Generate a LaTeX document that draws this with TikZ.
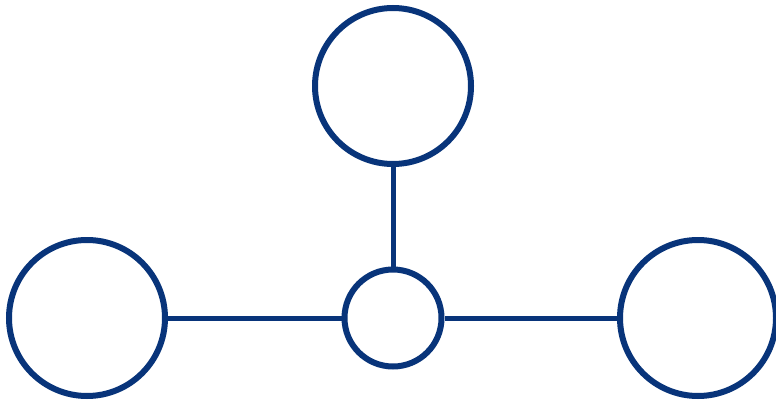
\documentclass[tikz,border=0pt]{standalone}
\definecolor{navy}{RGB}{8,52,122}
\begin{document}
\begin{tikzpicture}[x=1pt,y=-1pt,
  ring/.style={circle,draw=navy,line width=6pt,inner sep=0pt,fill=white},
  link/.style={draw=navy,line width=5pt}]
\useasboundingbox[fill=white] (0,0) rectangle (776,401);
\node[ring,minimum size=156pt] (top) at (393,86) {};
\node[ring,minimum size=156pt] (left) at (87,318) {};
\node[ring,minimum size=97pt] (mid) at (393,318) {};
\node[ring,minimum size=156pt] (right) at (698,318) {};
\draw[link] (top) -- (mid);
\draw[link] (left) -- (mid);
\draw[link] (mid) -- (right);
\end{tikzpicture}
\end{document}
